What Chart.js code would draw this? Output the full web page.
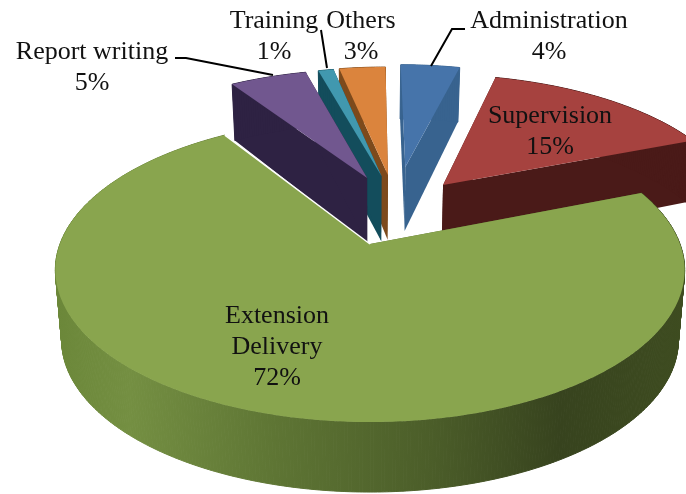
<!DOCTYPE html>
<html>
<head>
<meta charset="utf-8">
<title>Time allocation</title>
<script src="https://cdn.jsdelivr.net/npm/chart.js@4/dist/chart.umd.min.js"></script>
<style>
    html, body { margin: 0; padding: 0; background: #fff; }
    canvas { display: block; }
</style>
</head>
<body>
<canvas id="pieChart" width="686" height="494"></canvas>
<script>
// Chart data
const sliceNames = ["Administration", "Supervision", "Extension Delivery", "Report writing", "Training", "Others"];
const sliceValues = [4, 15, 72, 5, 1, 3];

// Slice colours
const topColors = ["#4674aa", "#a6423f", "#89a54e", "#71578f", "#4198af", "#db843d"];
const wallColors = ["#38638f", "#4a1a18", "#56692f", "#2e2243", "#134d5c", "#7d4a1c"];

// Exploded position of each slice on the pie plane, 1 = one radius
const explodeU = [0.125, 0.253, 0, -0.01, 0.04, 0.063];
const explodeV = [0.573, 0.429, 0, 0.484, 0.5, 0.508];
const sliceRadius = [0.96, 1, 1, 1, 1, 1];
// Back slices get painted first
const drawOrder = [5, 4, 3, 0, 1, 2];

// Perspective of the pie plane
const centerX = 370, centerY = 244;
const scaleU = 310, scaleV = 147.6, perspective = 0.171;
const bottomShrink = 0.98;

// Text and leader lines
const labelFont = "26px 'Liberation Serif'";
const chartLabels = [
    { lines: ["Report writing", "5%"], x: 92, y: [59, 90] },
    { lines: ["Training", "1%"], x: 274, y: [28, 59] },
    { lines: ["Others", "3%"], x: 361, y: [28, 59] },
    { lines: ["Administration", "4%"], x: 549, y: [28, 59] },
    { lines: ["Supervision", "15%"], x: 550, y: [123, 154] },
    { lines: ["Extension", "Delivery", "72%"], x: 277, y: [323, 354, 385] }
];
const leaderLines = [
    [[175, 58], [186, 58], [273, 75]],
    [[321, 30], [327, 68]],
    [[465, 29], [452, 29], [431, 66]]
];

const project = (u, v) => {
    const w = 1 + perspective * v;
    return { x: centerX + scaleU * u / w, y: centerY - scaleV * v / w, w: w };
};
// The walls get a bit shorter towards the back
const wallDepth = (w) => 70 - 60 * Math.max(0, w - 1);

function tracePolygon(ctx, points) {
    ctx.beginPath();
    points.forEach((p, i) => (i ? ctx.lineTo(p.x, p.y) : ctx.moveTo(p.x, p.y)));
    ctx.closePath();
}

const lowered = (p) => ({ x: centerX + (p.x - centerX) * bottomShrink, y: p.y + wallDepth(p.w) });

function drawSlice(ctx, arc, i) {
    const r = sliceRadius[i];
    const du = explodeU[i], dv = explodeV[i];
    const steps = Math.ceil((arc.endAngle - arc.startAngle) / 0.01);
    const rim = [];
    for (let s = 0; s <= steps; s++) {
        const a = arc.startAngle + (arc.endAngle - arc.startAngle) * s / steps;
        rim.push(project(du + r * Math.cos(a), dv - r * Math.sin(a)));
    }
    const apex = project(du, dv);

    // Walls first, then the top face goes over them
    ctx.fillStyle = wallColors[i];
    [rim[0], rim[rim.length - 1]].forEach((edge) => {
        tracePolygon(ctx, [apex, edge, lowered(edge), lowered(apex)]);
        ctx.fill();
    });
    if (i === 2) {
        const grad = ctx.createLinearGradient(55, 0, 685, 0);
        grad.addColorStop(0, "#6b8739");
        grad.addColorStop(0.12, "#748f42");
        grad.addColorStop(0.35, "#5e7534");
        grad.addColorStop(0.6, "#4b5d29");
        grad.addColorStop(0.8, "#37431e");
        grad.addColorStop(1, "#3e4c20");
        ctx.fillStyle = grad;
    }
    // Outer wall in small strips, a single polygon leaves gaps at the sides
    ctx.strokeStyle = ctx.fillStyle;
    ctx.lineWidth = 1;
    for (let s = 0; s < steps; s++) {
        tracePolygon(ctx, [rim[s], rim[s + 1], lowered(rim[s + 1]), lowered(rim[s])]);
        ctx.fill();
        ctx.stroke();
    }

    tracePolygon(ctx, [apex].concat(rim));
    ctx.fillStyle = topColors[i];
    ctx.fill();

    // Thin light edge along the notch of the big slice
    if (i === 2) {
        ctx.beginPath();
        ctx.moveTo(rim[rim.length - 1].x, rim[rim.length - 1].y);
        ctx.lineTo(apex.x, apex.y);
        ctx.strokeStyle = "#ffffff";
        ctx.lineWidth = 1.5;
        ctx.stroke();
    }
}

const pie3d = {
    id: "pie3d",
    beforeDatasetDraw(chart, args) {
        const arcs = chart.getDatasetMeta(args.index).data;
        drawOrder.forEach((i) => drawSlice(chart.ctx, arcs[i], i));
        return false; // default flat arcs not wanted
    },
    afterDraw(chart) {
        const ctx = chart.ctx;
        ctx.save();
        ctx.strokeStyle = "#000";
        ctx.lineWidth = 2;
        leaderLines.forEach((line) => {
            ctx.beginPath();
            line.forEach((p, i) => (i ? ctx.lineTo(p[0], p[1]) : ctx.moveTo(p[0], p[1])));
            ctx.stroke();
        });
        ctx.font = labelFont;
        ctx.fillStyle = "#111";
        ctx.textAlign = "center";
        chartLabels.forEach((label) => {
            label.lines.forEach((text, i) => ctx.fillText(text, label.x, label.y[i]));
        });
        ctx.restore();
    }
};

new Chart(document.getElementById("pieChart"), {
    type: "pie",
    data: {
        labels: sliceNames,
        datasets: [{ data: sliceValues, backgroundColor: topColors, borderWidth: 0 }]
    },
    options: {
        responsive: false,
        animation: false,
        events: [],
        plugins: { legend: { display: false }, tooltip: { enabled: false } }
    },
    plugins: [pie3d]
});
</script>
</body>
</html>
